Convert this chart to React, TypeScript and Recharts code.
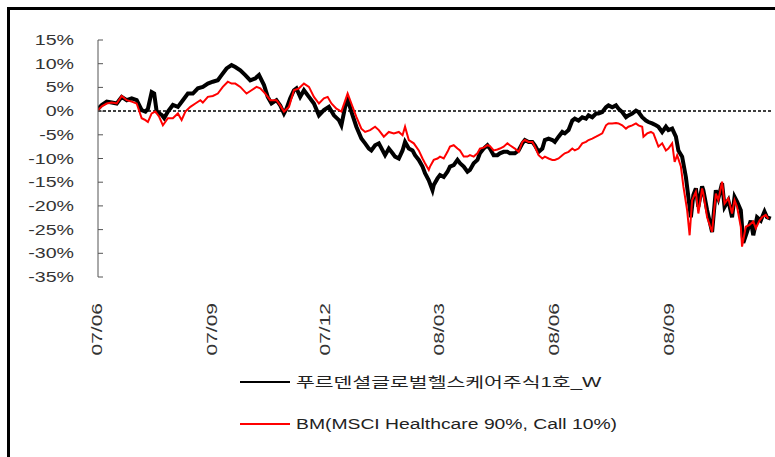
import React from "react";
import { LineChart, Line, XAxis, YAxis, ReferenceLine, Legend } from "recharts";

// Days since 2007-06-01 and cumulative returns (%)
const fundDays = [0,3,7,11,15,19,23,27,31,35,38,40,43,45,47,51,53,56,60,64,68,72,76,80,84,88,92,96,99,103,107,110,114,118,122,126,129,133,136,139,143,146,149,151,154,157,159,162,165,169,173,177,181,185,189,193,195,198,200,203,207,211,214,217,219,222,225,228,230,233,236,238,241,244,246,249,252,254,257,260,262,265,268,269,272,274,277,280,282,285,288,290,293,296,298,301,304,306,309,312,314,317,320,322,325,328,330,334,337,340,342,345,348,350,353,356,358,361,364,366,369,372,374,377,380,382,385,388,391,393,396,399,401,404,407,409,412,415,417,420,423,425,428,431,433,436,439,441,444,447,449,452,455,457,460,463,465,468,471,473,475,477,479,481,484,485,488,492,495,497,500,502,505,508,510,512,515,517,520,523,525,528,531,534,536,539];
const fundReturns = [0.5,1.3,2.0,1.8,1.6,3.0,2.3,2.7,2.3,0.2,-0.1,0.5,4.0,3.7,-0.1,-0.8,-1.5,-0.1,1.3,0.9,2.3,3.7,3.7,4.8,5.1,5.8,6.2,6.5,7.6,9.0,9.7,9.3,8.6,7.6,6.5,6.9,7.6,5.5,3.0,1.6,2.3,1.2,-0.5,0.5,2.7,4.4,4.8,3.0,4.4,3.0,1.6,-0.9,0.2,0.9,-0.9,-1.9,-3.0,0.9,2.5,-0.1,-3.3,-5.8,-6.8,-7.9,-8.3,-7.2,-6.8,-8.3,-9.3,-7.9,-8.9,-9.6,-10.0,-8.3,-6.5,-7.9,-8.3,-9.3,-10.3,-11.7,-13.1,-14.6,-16.7,-15.6,-14.2,-13.5,-13.9,-12.8,-11.7,-11.4,-10.3,-11.0,-11.7,-12.8,-12.4,-11.0,-10.3,-8.9,-7.9,-7.2,-7.9,-9.3,-9.3,-8.9,-8.6,-8.6,-8.9,-8.9,-8.3,-6.8,-6.1,-6.5,-6.5,-7.2,-8.6,-7.9,-6.1,-5.8,-6.1,-6.5,-5.4,-4.4,-4.7,-4.0,-2.0,-1.6,-2.0,-1.3,-1.6,-0.9,-1.3,-0.5,-0.5,-0.2,0.8,1.2,0.8,1.2,0.5,-0.2,-1.3,-0.9,-0.5,0.1,-0.2,-1.3,-2.0,-2.3,-2.6,-3.0,-3.3,-4.4,-3.3,-4.0,-3.7,-5.4,-8.3,-9.6,-13.9,-18.1,-22.4,-17.7,-16.3,-20.2,-15.9,-16.7,-20.9,-25.5,-16.7,-18.4,-15.2,-20.2,-18.8,-22.4,-18.1,-19.1,-20.9,-27.8,-25.5,-23.1,-26.2,-22.4,-23.1,-21.2,-22.4,-22.7];

const bmDays = [0,3,7,11,15,19,23,27,31,35,38,40,43,46,49,52,56,60,64,67,70,74,78,82,84,88,92,96,100,104,107,110,114,119,123,127,130,134,138,143,146,149,153,157,161,165,169,173,177,181,184,187,191,195,200,203,207,211,214,218,222,225,229,233,237,241,244,246,249,253,257,260,262,265,266,269,272,274,277,280,282,285,288,290,293,296,298,301,304,306,309,312,314,317,320,322,325,328,330,334,337,340,342,345,348,350,353,356,358,361,364,366,369,372,374,377,380,382,385,388,391,393,396,399,401,404,407,409,412,415,417,420,423,425,428,431,433,436,437,440,443,445,449,452,455,457,460,462,464,467,469,472,474,476,479,481,484,485,488,492,495,497,500,502,505,508,510,512,515,516,519,522,525,527,530,532,535,537];
const bmReturns = [0.2,1.0,1.6,1.8,1.6,3.2,2.3,2.0,1.6,-1.5,-1.9,-2.3,-0.5,-0.1,-1.2,-3.0,-1.5,-1.5,-0.5,-1.9,-0.1,0.9,1.6,2.3,1.8,3.0,3.2,3.7,5.1,6.2,5.8,5.8,5.1,3.7,4.4,5.1,4.8,3.7,2.3,2.3,1.2,-0.1,0.9,4.4,4.8,5.8,5.1,3.0,1.6,2.7,3.0,1.6,0.5,-0.1,3.7,1.6,-1.2,-3.7,-4.4,-4.0,-3.3,-4.0,-5.4,-4.4,-4.7,-4.4,-5.1,-3.3,-6.1,-6.8,-8.3,-10.0,-11.0,-12.4,-11.7,-10.3,-10.0,-9.6,-10.0,-8.6,-7.5,-7.2,-7.9,-8.3,-9.6,-9.6,-9.3,-9.6,-8.9,-7.9,-7.7,-7.2,-7.4,-8.3,-8.1,-7.9,-7.5,-6.8,-7.2,-7.9,-8.6,-6.5,-6.1,-6.5,-6.5,-7.5,-9.3,-10.0,-9.6,-10.0,-10.3,-10.3,-10.0,-9.3,-8.9,-8.6,-7.9,-8.3,-7.9,-6.8,-6.5,-6.1,-5.8,-5.4,-5.1,-4.7,-3.0,-2.6,-2.6,-2.5,-2.6,-3.0,-3.7,-3.3,-3.0,-2.6,-3.0,-3.3,-5.4,-4.7,-4.4,-4.7,-7.5,-6.8,-8.3,-7.9,-6.8,-10.7,-9.3,-11.7,-15.9,-20.9,-26.2,-18.8,-17.0,-21.6,-16.3,-17.4,-22.4,-25.5,-17.4,-18.8,-14.9,-19.5,-18.4,-21.6,-18.8,-20.2,-24.4,-28.6,-24.4,-24.0,-23.3,-24.7,-23.1,-22.4,-21.9,-22.7];

const xTickDays = [0, 92, 183, 274, 366, 458];
const xTickLabels = ["07/06", "07/09", "07/12", "08/03", "08/06", "08/09"];
const yTicks = [-35, -30, -25, -20, -15, -10, -5, 0, 5, 10, 15];

const fundName = "푸르덴셜글로벌헬스케어주식1호_W";
const bmName = "BM(MSCI Healthcare 90%, Call 10%)";

const fundData = fundDays.map((d, i) => ({ d, v: fundReturns[i] }));
const bmData = bmDays.map((d, i) => ({ d, v: bmReturns[i] }));

const FONT = "'Liberation Sans', Arial, 'Noto Sans CJK KR', sans-serif";
const AXIS_X = 98;

const YTick = (props: any) => {
  const { x, y, payload } = props;
  return (
    <g>
      <line x1={AXIS_X} x2={AXIS_X + 5} y1={y} y2={y} stroke="#555" strokeWidth={1} />
      <text
        transform={`translate(${x},${y}) scale(1.4,1)`}
        x={0}
        y={5}
        textAnchor="end"
        fontSize={14}
        fontFamily={FONT}
        fill="#333"
      >
        {`${payload.value}%`}
      </text>
    </g>
  );
};

const XTick = (props: any) => {
  const { x, y, payload } = props;
  const idx = xTickDays.indexOf(payload.value);
  return (
    <text
      transform={`translate(${x - 1},${y + 26}) rotate(-90) scale(1.5,1)`}
      x={0}
      y={5}
      textAnchor="end"
      fontSize={14}
      fontFamily={FONT}
      fill="#333"
    >
      {idx >= 0 ? xTickLabels[idx] : ""}
    </text>
  );
};

const LegendContent = () => {
  const row = (top: number, color: string, label: string, sx: number) => (
    <div style={{ position: "absolute", left: 0, top, height: 20, width: 520 }}>
      <div style={{ position: "absolute", left: 10, top: 9, width: 50, height: 2, background: color }} />
      <span
        style={{
          position: "absolute",
          left: 66,
          top: 1,
          fontSize: 14,
          lineHeight: "18px",
          fontFamily: FONT,
          color: "#222",
          whiteSpace: "nowrap",
          transform: `scaleX(${sx})`,
          transformOrigin: "left center",
        }}
      >
        {label}
      </span>
    </div>
  );
  return (
    <div style={{ position: "relative", width: 520, height: 80 }}>
      {row(12, "#000", fundName, 1.46)}
      {row(54, "#ff0000", bmName, 1.38)}
    </div>
  );
};

export default function App() {
  return (
    <div style={{ position: "fixed", left: 0, top: 0, width: 775, height: 457, background: "#fff", overflow: "hidden" }}>
      <div
        style={{
          position: "absolute",
          left: 7,
          top: 7,
          width: 775,
          height: 460,
          borderLeft: "3px solid #000",
          borderTop: "3px solid #000",
          boxSizing: "border-box",
        }}
      />
      <div style={{ position: "absolute", left: 0, top: 0 }}>
        <LineChart width={775} height={457} margin={{ top: 40, right: 3, left: 0, bottom: 30 }}>
          <XAxis
            dataKey="d"
            type="number"
            domain={[0, 540]}
            ticks={xTickDays}
            interval={0}
            axisLine={false}
            tickLine={false}
            tickSize={0}
            tickMargin={0}
            height={70}
            tick={<XTick />}
            allowDataOverflow
          />
          <YAxis
            type="number"
            domain={[-35, 15]}
            ticks={yTicks}
            interval={0}
            width={98}
            axisLine={{ stroke: "#555", strokeWidth: 1 }}
            tickLine={false}
            tickSize={0}
            tickMargin={24}
            tick={<YTick />}
          />
          <ReferenceLine y={0} stroke="#000" strokeWidth={1.5} strokeDasharray="3 2" ifOverflow="extendDomain" />
          <Line
            data={fundData}
            dataKey="v"
            name={fundName}
            type="linear"
            stroke="#000"
            strokeWidth={4}
            dot={false}
            isAnimationActive={false}
          />
          <Line
            data={bmData}
            dataKey="v"
            name={bmName}
            type="linear"
            stroke="#ff0000"
            strokeWidth={2}
            dot={false}
            isAnimationActive={false}
          />
          <Legend
            content={<LegendContent />}
            wrapperStyle={{ position: "absolute", left: 230, top: 360, width: 520, height: 80 }}
          />
        </LineChart>
      </div>
    </div>
  );
}
